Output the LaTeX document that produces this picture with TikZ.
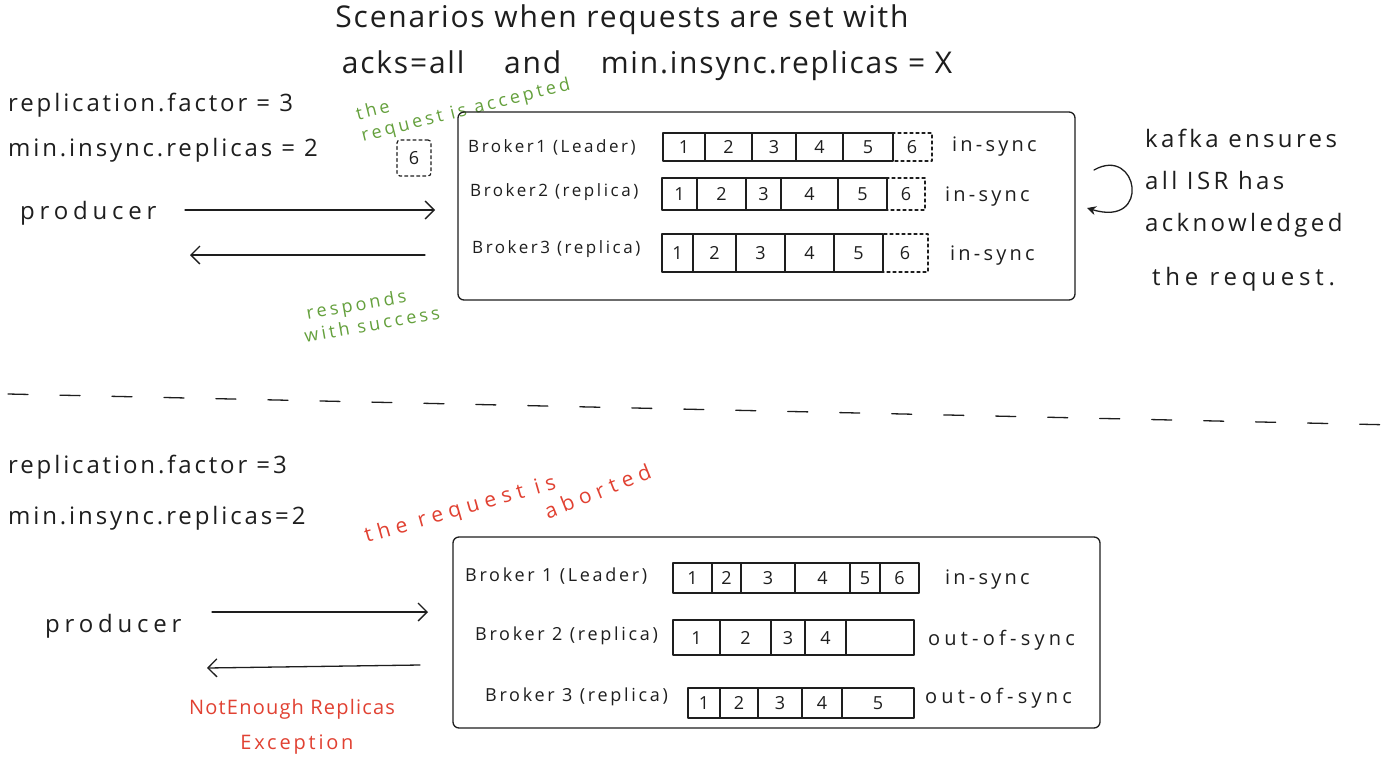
\documentclass[tikz,border=0pt]{standalone}
\usepackage{fontspec}
\setmainfont{Open Sans}[LetterSpace=6]
\usetikzlibrary{arrows.meta}
\definecolor{ink}{RGB}{30,30,30}
\definecolor{hgreen}{RGB}{100,160,60}
\definecolor{hred}{RGB}{225,65,50}
\tikzset{
  inkline/.style={draw=ink, line width=1.3pt, line cap=round, line join=round},
  txt/.style={inner sep=0pt, anchor=west, text=ink},
  big/.style={inner sep=0pt, text=ink, font=\fontsize{30}{34}\selectfont},
  lbl/.style={font=\fontsize{24}{28}\selectfont\addfontfeature{LetterSpace=12}},
  wide/.style={font=\fontsize{24}{28}\selectfont\addfontfeature{LetterSpace=20}},
  side/.style={font=\fontsize{24}{28}\selectfont\addfontfeature{LetterSpace=14}},
  brk/.style={font=\fontsize{17}{20}\selectfont\addfontfeature{LetterSpace=15}},
  brkb/.style={font=\fontsize{18}{20}\selectfont\addfontfeature{LetterSpace=15}},
  num/.style={inner sep=0pt, text=ink, font=\fontsize{18}{20}\selectfont},
  stat/.style={font=\fontsize{20}{24}\selectfont\addfontfeature{LetterSpace=16}},
  statb/.style={font=\fontsize{20}{24}\selectfont\addfontfeature{LetterSpace=21}},
  gnote/.style={inner sep=0pt, text=hgreen, align=left, font=\fontsize{18}{22}\selectfont\addfontfeature{LetterSpace=18}},
  rnote/.style={inner sep=0pt, text=hred, align=left, font=\fontsize{20}{24}\selectfont},
  rwide/.style={font=\fontsize{21}{24}\selectfont\addfontfeature{LetterSpace=28}},
  arr/.style={inkline, -{Straight Barb[length=9pt,width=18pt,line width=1.3pt]}},
  bigbox/.style={inkline, rounded corners=6pt, inner sep=0pt},
  cellbox/.style={inkline, line width=1.2pt},
  pendbox/.style={inkline, line width=1.2pt, dashed},
}
\begin{document}
\begin{tikzpicture}[x=1pt,y=-1pt]
\useasboundingbox[fill=white] (0,0) rectangle (1395,766);

% title
\node[big] (t1) at (622,20) {Scenarios when requests are set with};
\node[big] (t2) at (647,66) {acks=all \quad and \quad min.insync.replicas = X};

% ---------- top scenario ----------
\node[txt,lbl] (rf1) at (8,105) {replication.factor = 3};
\node[txt,lbl] (mi1) at (8,150) {min.insync.replicas = 2};
\node[txt,wide] (p1) at (20,213) {producer};

\node[gnote, rotate=14, anchor=south west] (acc) at (364,146) {the\\request is accepted};
\node[pendbox, rounded corners=3pt, minimum width=34pt, minimum height=36pt, inner sep=0pt, text=ink, font=\fontsize{18}{20}\selectfont] (six) at (414,158) {6};

\coordinate (a1s) at (185,210);
\coordinate (a1e) at (435,210);
\draw[arr] (a1s) -- (a1e);
\coordinate (a2s) at (425,255);
\coordinate (a2e) at (190,255);
\draw[arr] (a2s) -- (a2e);

\node[gnote, rotate=10] (resp) at (370,313) {\hspace*{6pt}responds\\with success};

\node[bigbox, draw, minimum width=617pt, minimum height=188pt] (box1) at (766.5,206) {};

\node[txt,brk] (b1l) at (468,147) {Broker1 (Leader)};
\node[txt,brk] (b2l) at (470,192) {Broker2 (replica)};
\node[txt,brk] (b3l) at (472,249) {Broker3 (replica)};

\foreach \a/\b/\t [count=\i] in {663/705/1,705/752/2,752/796/3,796/843/4,843/893/5}{
  \draw[cellbox] (\a,133) rectangle (\b,161);
  \node[num] (ra\i) at ({(\a+\b)/2},147) {\t};
}
\draw[pendbox] (893,133) rectangle (932,161);
\node[num] (ra6) at (912,147) {6};

\foreach \a/\b/\t [count=\i] in {662/697/1,697/746/2,746/781/3,781/838/4,838/887/5}{
  \draw[cellbox] (\a,178) rectangle (\b,210);
  \node[num] (rb\i) at ({(\a+\b)/2},194) {\t};
}
\draw[pendbox] (887,178) rectangle (925,210);
\node[num] (rb6) at (906,194) {6};

\foreach \a/\b/\t [count=\i] in {662/693/1,693/736/2,736/785/3,785/834/4,834/883/5}{
  \draw[cellbox] (\a,234) rectangle (\b,272);
  \node[num] (rc\i) at ({(\a+\b)/2},253) {\t};
}
\draw[pendbox] (883,234) rectangle (928,272);
\node[num] (rc6) at (905,253) {6};

\node[txt,stat] (s1) at (952,147) {in-sync};
\node[txt,stat] (s2) at (945,197) {in-sync};
\node[txt,stat] (s3) at (950,256) {in-sync};

\coordinate (loopA) at (1094,170);
\coordinate (loopB) at (1087,208);
\draw[inkline, -{Stealth[length=9pt,width=9pt]}] (loopA) .. controls (1138,145) and (1152,228) .. (loopB);

\node[txt,side] (k1) at (1145,138) {kafka ensures};
\node[txt,side] (k2) at (1145,180) {all ISR has};
\node[txt,side] (k3) at (1145,225) {acknowledged};
\node[txt,wide] (k4) at (1152,279) {the request.};

% separator
\coordinate (sepA) at (8,394);
\coordinate (sepB) at (1395,425);
\draw[inkline, dash pattern=on 20pt off 32pt] (sepA) -- (sepB);

% ---------- bottom scenario ----------
\node[txt,lbl] (rf2) at (8,467) {replication.factor =3};
\node[txt,lbl] (mi2) at (8,518) {min.insync.replicas=2};

\node[rnote, rwide, rotate=16, anchor=south west] (abt1) at (368,548) {the request is};
\node[rnote, rwide, rotate=22, anchor=south west] (abt2) at (548,520) {aborted};

\node[txt,wide] (p2) at (45,626) {producer};

\coordinate (b1s) at (212,612);
\coordinate (b1e) at (428,612);
\draw[arr] (b1s) -- (b1e);
\coordinate (b2s) at (420,665);
\coordinate (b2e) at (207,668);
\draw[arr] (b2s) -- (b2e);

\node[rnote] (ne1) at (292,709) {NotEnough Replicas};
\node[rnote, font=\fontsize{20}{24}\selectfont\addfontfeature{LetterSpace=14}] (ne2) at (297,745) {Exception};

\node[bigbox, draw, minimum width=647pt, minimum height=191pt] (box2) at (776.5,632.5) {};

\node[txt,brkb] (c1l) at (465,576) {Broker 1 (Leader)};
\node[txt,brkb] (c2l) at (475,636) {Broker 2 (replica)};
\node[txt,brkb] (c3l) at (485,697) {Broker 3 (replica)};

\foreach \a/\b/\t [count=\i] in {673/712/1,712/741/2,741/795/3,795/850/4,850/880/5,880/919/6}{
  \draw[cellbox] (\a,563) rectangle (\b,593);
  \node[num] (sa\i) at ({(\a+\b)/2},578) {\t};
}
\foreach \a/\b/\t [count=\i] in {673/720/1,720/771/2,771/805/3,805/846/4,846/914/{}}{
  \draw[cellbox] (\a,620) rectangle (\b,655);
  \node[num] (sb\i) at ({(\a+\b)/2},638) {\t};
}
\foreach \a/\b/\t [count=\i] in {688/720/1,720/758/2,758/802/3,802/842/4,842/914/5}{
  \draw[cellbox] (\a,688) rectangle (\b,718);
  \node[num] (sc\i) at ({(\a+\b)/2},703) {\t};
}

\node[txt,stat] (u1) at (945,580) {in-sync};
\node[txt,statb] (u2) at (928,640) {out-of-sync};
\node[txt,statb] (u3) at (925,698) {out-of-sync};
\end{tikzpicture}
\end{document}
